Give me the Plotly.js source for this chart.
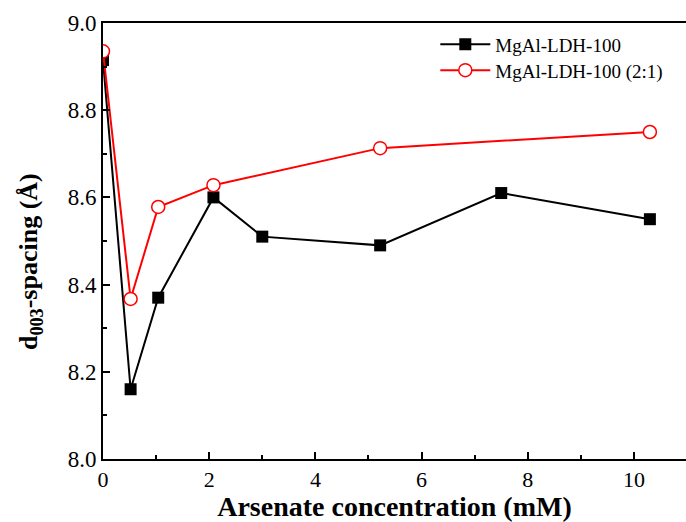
<!DOCTYPE html>
<html>
<head>
<meta charset="utf-8">
<script src="https://cdn.plot.ly/plotly-3.0.1.min.js"></script>
<style>
  html, body { margin: 0; padding: 0; background: #fff; }
  #chart { width: 686px; height: 522px; }
</style>
</head>
<body>
<div id="chart"></div>
<script>
// Arsenate concentration (mM) and basal spacing d003 (Å)
const concBlack = [0, 0.52, 1.04, 2.08, 3.0, 5.22, 7.5, 10.3];
const spacingBlack = [8.915, 8.16, 8.37, 8.60, 8.51, 8.49, 8.61, 8.55];
const concRed = [0, 0.52, 1.04, 2.08, 5.22, 10.3];
const spacingRed = [8.935, 8.367, 8.578, 8.628, 8.713, 8.75];
const seriesNames = ['MgAl-LDH-100', 'MgAl-LDH-100 (2:1)'];

const serif = '"Liberation Serif", "Times New Roman", serif';

const traces = [
  {
    x: concBlack, y: spacingBlack, name: seriesNames[0], legend: 'legend',
    type: 'scatter', mode: 'lines+markers',
    line: { color: '#000000', width: 2 },
    marker: { symbol: 'square', size: 12, color: '#000000' }
  },
  {
    x: concRed, y: spacingRed, name: seriesNames[1], legend: 'legend2',
    type: 'scatter', mode: 'lines+markers',
    line: { color: '#ff0000', width: 2 },
    marker: { symbol: 'circle', size: 13, color: '#ffffff', line: { color: '#ff0000', width: 1.5 } }
  }
];

const legendStyle = (y) => ({
  x: 0.57, y: y, xanchor: 'left', yanchor: 'top',
  bgcolor: 'rgba(0,0,0,0)', borderwidth: 0,
  font: { family: serif, size: 19, color: '#000000' },
  itemwidth: 50
});

const layout = {
  width: 686, height: 522,
  margin: { l: 103, r: 0, t: 23, b: 63 },
  paper_bgcolor: '#ffffff', plot_bgcolor: '#ffffff',
  font: { family: serif, color: '#000000', size: 22 },
  showlegend: true,
  legend: legendStyle(0.9945),
  legend2: legendStyle(0.935),
  xaxis: {
    range: [0, 10.98], autorange: false,
    tickmode: 'linear', tick0: 0, dtick: 2,
    ticks: 'inside', ticklen: 7, tickwidth: 2, tickcolor: '#000',
    minor: { dtick: 1, ticks: 'inside', ticklen: 4, tickwidth: 2, tickcolor: '#000' },
    showline: true, linewidth: 2, linecolor: '#000', mirror: true,
    showgrid: false, zeroline: false,
    tickfont: { family: serif, size: 22 },
    title: { text: '<b>Arsenate concentration (mM)</b>', font: { family: serif, size: 28 }, standoff: 7 }
  },
  yaxis: {
    range: [8.0, 9.0], autorange: false,
    tickmode: 'linear', tick0: 8.0, dtick: 0.2, tickformat: '.1f',
    ticks: 'inside', ticklen: 7, tickwidth: 2, tickcolor: '#000',
    minor: { dtick: 0.1, ticks: 'inside', ticklen: 4, tickwidth: 2, tickcolor: '#000' },
    showline: true, linewidth: 2, linecolor: '#000', mirror: false,
    showgrid: false, zeroline: false,
    tickfont: { family: serif, size: 23 }
  },
  annotations: [
    {
      text: '<b>d<sub>003</sub>-spacing (Å)</b>',
      xref: 'paper', yref: 'paper', x: -0.125, y: 0.452,
      xanchor: 'center', yanchor: 'middle', textangle: -90, showarrow: false,
      font: { family: serif, size: 26, color: '#000000' }
    }
  ]
};

Plotly.newPlot('chart', traces, layout, { staticPlot: true, displayModeBar: false });
</script>
</body>
</html>
